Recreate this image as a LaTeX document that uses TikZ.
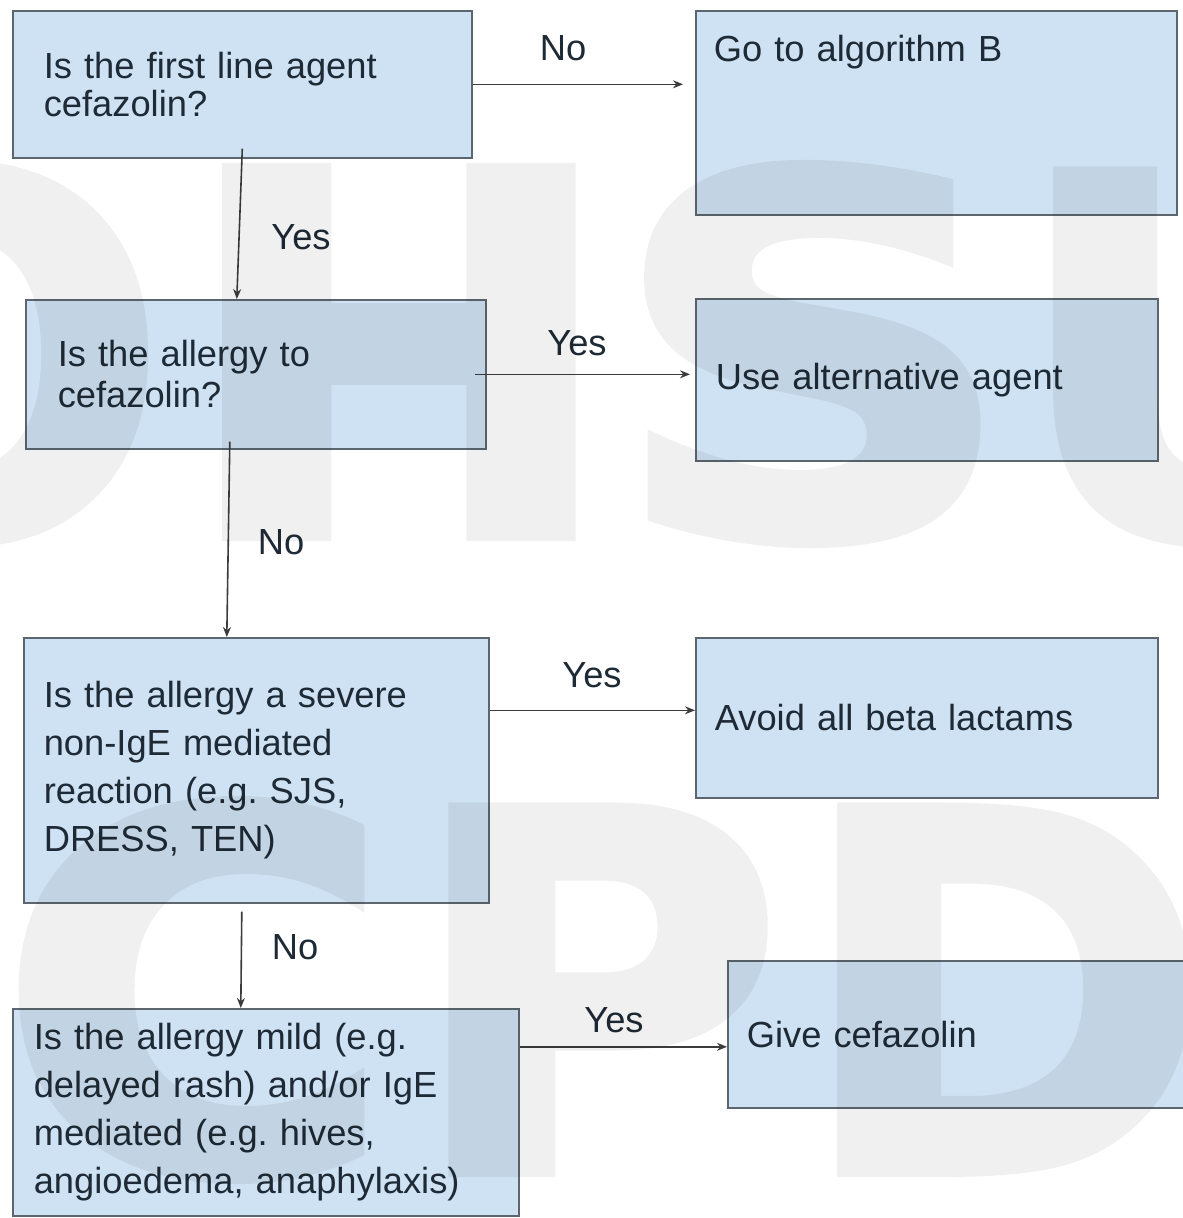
\documentclass[tikz,border=0pt]{standalone}
\usepackage{fontspec}
\setmainfont{Liberation Sans}
\newfontfamily\markfont{DejaVu Sans}[FakeBold=2]
\usetikzlibrary{arrows.meta}
\definecolor{boxfill}{HTML}{CFE2F3}
\definecolor{boxline}{HTML}{5B6670}
\definecolor{ink}{HTML}{1E2A35}
\definecolor{wire}{HTML}{3C3C3C}
\newcommand\flowfont[1]{\fontsize{36.3pt}{#1}\selectfont\frenchspacing}

\begin{document}
\begin{tikzpicture}[x=1pt,y=-1pt,
  box/.style={draw=boxline,fill=boxfill,line width=1.6pt,anchor=north west,align=left,inner ysep=0pt,text=ink,font=\flowfont{48pt}},
  lbl/.style={text=ink,inner sep=0pt,font=\flowfont{40pt}},
  flow/.style={draw=wire,line width=1.6pt,-{Stealth[length=10pt,width=8pt]}},
  wmark/.style={anchor=base west,inner sep=0pt,text=black,font=\markfont\bfseries\fontsize{500pt}{500pt}\selectfont}]
  \useasboundingbox (0,0) rectangle (1183,1218);
  \fill[white] (0,0) rectangle (1183,1218);
  % left column: questions
  \node[box,minimum height=147pt,text width=397pt,inner xsep=31pt,font=\flowfont{38pt}] (q1) at (12,10) {Is the first line agent\\cefazolin?};
  \node[box,minimum height=149pt,text width=396pt,inner xsep=32pt,font=\flowfont{41pt}] (q2) at (25,299) {Is the allergy to\\cefazolin?};
  \node[box,minimum height=265pt,text width=425pt,inner xsep=20pt] (q3) at (23,637) {Is the allergy a severe\\non-IgE mediated\\reaction (e.g. SJS,\\DRESS, TEN)};
  \node[box,minimum height=207pt,text width=464pt,inner xsep=21pt] (q4) at (12,1008) {Is the allergy mild (e.g.\\delayed rash) and/or IgE\\mediated (e.g. hives,\\angioedema, anaphylaxis)};
  % right column: outcomes
  \node[box,text width=445pt,inner xsep=18pt,text height=51pt,text depth=153pt] (algb) at (695,10) {Go to algorithm B};
  \node[box,minimum height=162pt,text width=422pt,inner xsep=20pt] (alt) at (695,298) {Use alternative agent};
  \node[box,minimum height=160pt,text width=424pt,inner xsep=19pt] (avoid) at (695,637) {Avoid all beta lactams};
  \node[box,minimum height=147pt,text width=452pt,inner xsep=19pt] (give) at (727,960) {Give cefazolin};
  % connectors
  \draw[flow,shorten >=12pt] (q1.east) -- (q1.east -| algb.west);
  \draw[flow] ([yshift=10pt]q1.south) -- ([xshift=-19pt]q2.north);
  \draw[flow,shorten >=5pt] ([xshift=-12pt]q2.east) -- (q2.east -| alt.west);
  \draw[flow] ([xshift=-26pt,yshift=8pt]q2.south) -- ([xshift=-29.5pt]q3.north);
  \draw[flow] ([yshift=60pt]q3.east) -- ([yshift=60pt]q3.east -| avoid.west);
  \draw[flow] ([xshift=-14.5pt,yshift=-8pt]q3.south) -- ([xshift=-25pt]q4.north);
  \draw[flow] ([yshift=65.5pt]q4.east) -- ([yshift=65.5pt]q4.east -| give.west);
  \node[lbl] (no1) at (563,48) {No};
  \node[lbl] (yes1) at (301,237) {Yes};
  \node[lbl] (yes2) at (577,343) {Yes};
  \node[lbl] (no2) at (281,542) {No};
  \node[lbl] (yes3) at (592,675) {Yes};
  \node[lbl] (no3) at (295,947) {No};
  \node[lbl] (yes4) at (614,1020) {Yes};
  % watermark
  \begin{scope}[transparency group,opacity=0.06]
    \node[wmark] (wo) at (-257,536) {O};
    \node[wmark,xscale=1.05,yscale=1.01] (wh) at (179,536) {H};
    \node[wmark,xscale=1.13] (ws) at (609,536) {S};
    \node[wmark] (wu) at (1012,536) {U};
    \node[wmark,xscale=1.08] (wc) at (-3,1172) {C};
    \node[wmark,xscale=1.03] (wp) at (406,1172) {P};
    \node[wmark] (wd) at (796,1172) {D};
  \end{scope}
\end{tikzpicture}
\end{document}
